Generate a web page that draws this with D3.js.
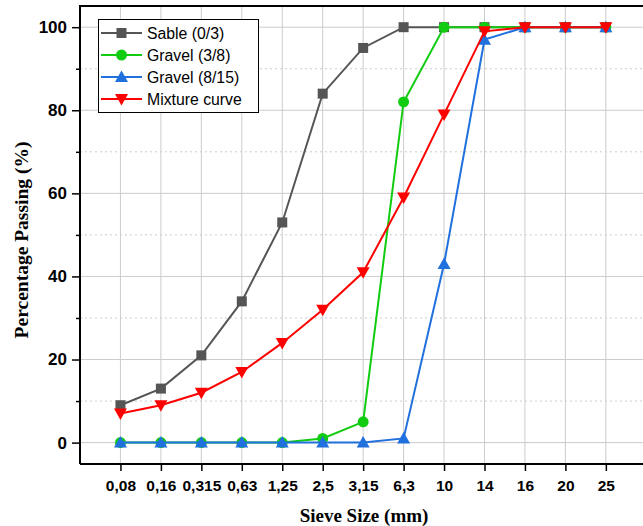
<!DOCTYPE html>
<html><head><meta charset="utf-8">
<script src="https://cdn.jsdelivr.net/npm/d3@7"></script>
<style>body{margin:0;background:#fff}svg{display:block}</style>
</head><body>
<svg id="c" width="643" height="526"></svg>
<script>
const categories = ["0,08","0,16","0,315","0,63","1,25","2,5","3,15","6,3","10","14","16","20","25"];
const sable   = [9,13,21,34,53,84,95,100,100,100,100,100,100];
const gravel38  = [0,0,0,0,0,1,5,82,100,100,100,100,100];
const gravel815 = [0,0,0,0,0,0,0,1,43,97,100,100,100];
const mixture = [7,9,12,17,24,32,41,59,79,99,100,100,100];
const seriesNames = ["Sable (0/3)","Gravel (3/8)","Gravel (8/15)","Mixture curve"];
const yTicks = [0,20,40,60,80,100];
const yMinor = [10,30,50,70,90];

const series = [
  {name: seriesNames[0], values: sable, color: "#555555", marker: "square"},
  {name: seriesNames[1], values: gravel38, color: "#11cc11", marker: "circle"},
  {name: seriesNames[2], values: gravel815, color: "#2070dd", marker: "up"},
  {name: seriesNames[3], values: mixture, color: "#ff0000", marker: "down"}
];

const svg = d3.select("#c");
const L = 80, T = 6, B = 464;
const x = d3.scaleLinear().domain([0, 14]).range([L, L + 14*40.45]);
const y = d3.scaleLinear().domain([-5.15, 105.1]).range([B, T]);
const R = x(14);

// grid
const g = svg.append("g");
g.selectAll("line.v").data(categories).enter().append("line")
  .attr("x1",(d,i)=>x(i+1)).attr("x2",(d,i)=>x(i+1)).attr("y1",T).attr("y2",B)
  .attr("stroke","#cccccc").attr("stroke-width",1);
g.selectAll("line.h").data(yTicks).enter().append("line")
  .attr("x1",L).attr("x2",R).attr("y1",d=>y(d)).attr("y2",d=>y(d))
  .attr("stroke","#cccccc").attr("stroke-width",1);
g.selectAll("line.hm").data(yMinor).enter().append("line")
  .attr("x1",L).attr("x2",R).attr("y1",d=>y(d)).attr("y2",d=>y(d))
  .attr("stroke","#cccccc").attr("stroke-width",1).attr("stroke-dasharray","2,3");

// axes
const xAxis = d3.axisBottom(x).tickValues(d3.range(1,14)).tickFormat(i=>categories[i-1]).tickSize(7).tickPadding(9);
const xa = svg.append("g").attr("transform",`translate(0,${B})`).call(xAxis);
xa.select(".domain").attr("d",`M${L},0H${R}`).attr("stroke","#000").attr("stroke-width",2);
const yAxis = d3.axisLeft(y).tickValues(yTicks).tickSize(8).tickPadding(5);
const ya = svg.append("g").attr("transform",`translate(${L},0)`).call(yAxis);
ya.select(".domain").attr("d",`M0,${B}V${T}`).attr("stroke","#000").attr("stroke-width",2);
const yam = svg.append("g").attr("transform",`translate(${L},0)`).call(d3.axisLeft(y).tickValues(yMinor).tickSize(4).tickFormat(""));
yam.select(".domain").remove();
svg.selectAll(".tick line").attr("stroke","#000").attr("stroke-width",1.5);
svg.selectAll(".tick text").style("font-family","'Liberation Sans', Arial, sans-serif").style("font-weight","bold").attr("fill","#000");
xa.selectAll(".tick text").style("font-size","15.5px");
ya.selectAll(".tick text").style("font-size","17px");
// top border
svg.append("line").attr("x1",L-1).attr("x2",R).attr("y1",T).attr("y2",T).attr("stroke","#000").attr("stroke-width",2);

// titles
svg.append("text").attr("x",364).attr("y",522).attr("text-anchor","middle")
  .style("font-family","'Liberation Serif', 'Times New Roman', serif").style("font-weight","bold").style("font-size","19px").text("Sieve Size (mm)");
svg.append("text").attr("transform","translate(28,240) rotate(-90)").attr("text-anchor","middle")
  .style("font-family","'Liberation Serif', 'Times New Roman', serif").style("font-weight","bold").style("font-size","19.5px").text("Percentage Passing (%)");

function drawMarker(sel, type, color, cx, cy) {
  if (type === "square") sel.append("rect").attr("x",cx-5).attr("y",cy-5).attr("width",10).attr("height",10).attr("fill",color);
  else if (type === "circle") sel.append("circle").attr("cx",cx).attr("cy",cy).attr("r",5.5).attr("fill",color);
  else if (type === "up") sel.append("path").attr("d",`M${cx},${cy-6.5}L${cx+6.5},${cy+5}L${cx-6.5},${cy+5}Z`).attr("fill",color);
  else sel.append("path").attr("d",`M${cx},${cy+6.5}L${cx+6.5},${cy-5}L${cx-6.5},${cy-5}Z`).attr("fill",color);
}

const line = d3.line().x((d,i)=>x(i+1)).y(d=>y(d));
series.forEach(s => {
  const sg = svg.append("g");
  sg.append("path").attr("d", line(s.values)).attr("fill","none").attr("stroke",s.color).attr("stroke-width",2);
  s.values.forEach((v,i)=> drawMarker(sg, s.marker, s.color, x(i+1), y(v)));
});

// legend
const lg = svg.append("g");
lg.append("rect").attr("x",98.5).attr("y",19.5).attr("width",160).attr("height",93).attr("fill","#fff").attr("stroke","#000").attr("stroke-width",1);
series.forEach((s,i)=>{
  const cy = 33 + i*22;
  lg.append("line").attr("x1",101).attr("x2",142).attr("y1",cy).attr("y2",cy).attr("stroke",s.color).attr("stroke-width",2);
  drawMarker(lg, s.marker, s.color, 121.5, cy);
  lg.append("text").attr("x",147).attr("y",cy+5.5).style("font-family","'Liberation Sans', Arial, sans-serif").style("font-size","15.8px").attr("fill","#000").text(s.name);
});
</script>
</body></html>
